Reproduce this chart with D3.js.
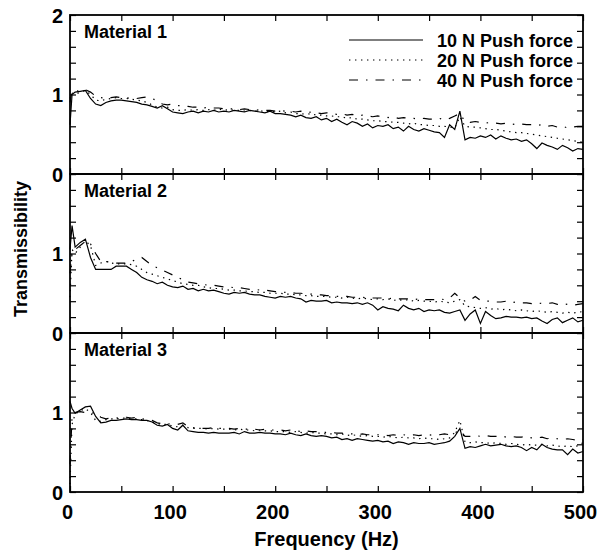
<!DOCTYPE html>
<html><head><meta charset="utf-8">
<script src="https://cdn.jsdelivr.net/npm/d3@7"></script>
<style>body{margin:0;background:#fff}svg text{font-family:"Liberation Sans",Arial,sans-serif;font-weight:bold;fill:#000}</style>
</head><body><svg id="c" width="598" height="550"></svg>
<script>
const freq = [0,2,5,10,15,20,25,30,35,40,45,50,55,60,65,70,75,80,85,90,95,100,105,110,115,120,125,130,135,140,145,150,155,160,165,170,175,180,185,190,195,200,205,210,215,220,225,230,235,240,245,250,255,260,265,270,275,280,285,290,295,300,305,310,315,320,325,330,335,340,345,350,355,360,365,370,375,380,385,390,395,400,405,410,415,420,425,430,435,440,445,450,455,460,465,470,475,480,485,490,495,500];
const seriesNames = ["10 N Push force","20 N Push force","40 N Push force"];
const panelNames = ["Material 1","Material 2","Material 3"];
const xTicks = [0,100,200,300,400,500];
const yTickLabels = ["0","1","2"];

const m1_10 = [0.62,1.0,
 1.03,1.04,1.05,0.95,0.88,0.86,0.9,0.92,0.93,0.93,
 0.92,0.91,0.90,0.88,0.87,0.85,0.83,0.86,0.82,0.78,
 0.77,0.76,0.78,0.79,0.77,0.79,0.78,0.80,0.78,0.79,
 0.78,0.80,0.79,0.78,0.80,0.79,0.78,0.77,0.79,0.76,
 0.76,0.75,0.74,0.72,0.74,0.71,0.70,0.72,0.68,0.70,
 0.66,0.69,0.65,0.62,0.66,0.64,0.60,0.63,0.58,0.61,
 0.60,0.62,0.57,0.59,0.54,0.60,0.56,0.54,0.57,0.55,
 0.53,0.52,0.46,0.62,0.56,0.79,0.43,0.46,0.45,0.48,
 0.46,0.49,0.44,0.48,0.45,0.43,0.44,0.41,0.43,0.38,
 0.32,0.39,0.36,0.34,0.31,0.36,0.33,0.29,0.32,0.31];
const m1_20 = [0.95,1.02,
 1.0,1.03,1.05,1.0,0.93,0.92,0.94,0.95,0.96,0.95,
 0.95,0.94,0.93,0.92,0.90,0.87,0.84,0.83,0.84,0.81,
 0.80,0.80,0.81,0.80,0.81,0.80,0.81,0.80,0.82,0.80,
 0.81,0.80,0.80,0.79,0.80,0.79,0.80,0.78,0.79,0.78,
 0.79,0.77,0.78,0.76,0.76,0.75,0.76,0.74,0.74,0.73,
 0.73,0.72,0.72,0.70,0.71,0.69,0.69,0.68,0.67,0.67,
 0.66,0.66,0.65,0.65,0.64,0.63,0.64,0.62,0.62,0.61,
 0.61,0.60,0.60,0.59,0.58,0.72,0.60,0.59,0.59,0.58,
 0.57,0.56,0.56,0.55,0.54,0.53,0.52,0.52,0.51,0.50,
 0.49,0.48,0.47,0.46,0.45,0.44,0.43,0.42,0.41,0.40];
const m1_40 = [0.9,1.05,
 1.05,1.04,1.06,1.03,0.98,0.96,0.95,0.96,0.97,0.96,
 0.96,0.95,0.95,0.96,0.97,0.95,0.92,0.88,0.87,0.88,
 0.86,0.86,0.85,0.84,0.84,0.83,0.84,0.83,0.83,0.82,
 0.82,0.82,0.81,0.82,0.81,0.80,0.81,0.80,0.80,0.79,
 0.80,0.79,0.79,0.78,0.79,0.77,0.78,0.77,0.76,0.77,
 0.76,0.75,0.76,0.74,0.75,0.73,0.74,0.73,0.72,0.73,
 0.72,0.71,0.72,0.70,0.71,0.70,0.70,0.69,0.70,0.69,
 0.69,0.70,0.68,0.70,0.73,0.76,0.66,0.65,0.66,0.65,
 0.64,0.65,0.64,0.63,0.64,0.63,0.62,0.63,0.62,0.62,
 0.61,0.62,0.60,0.61,0.59,0.60,0.58,0.59,0.60,0.60];

const m2_10 = [1.05,1.35,
 1.08,1.14,1.18,0.95,0.80,0.80,0.80,0.80,0.84,0.84,
 0.84,0.80,0.76,0.70,0.67,0.65,0.62,0.64,0.60,0.58,
 0.57,0.59,0.55,0.56,0.53,0.55,0.53,0.54,0.52,0.50,
 0.49,0.51,0.50,0.51,0.49,0.48,0.48,0.46,0.45,0.44,
 0.46,0.45,0.46,0.44,0.43,0.39,0.41,0.40,0.40,0.41,
 0.38,0.39,0.38,0.38,0.37,0.38,0.36,0.38,0.35,0.29,
 0.33,0.31,0.30,0.28,0.35,0.31,0.29,0.31,0.27,0.29,
 0.28,0.29,0.26,0.25,0.27,0.29,0.16,0.24,0.29,0.12,
 0.27,0.22,0.18,0.19,0.21,0.20,0.20,0.19,0.20,0.18,
 0.19,0.15,0.12,0.17,0.19,0.13,0.16,0.19,0.14,0.16];
const m2_20 = [0.45,1.05,
 1.0,1.08,1.16,1.10,0.85,0.88,0.90,0.88,0.87,0.87,
 0.87,0.86,0.84,0.80,0.76,0.74,0.72,0.70,0.68,0.66,
 0.64,0.62,0.61,0.60,0.60,0.58,0.57,0.56,0.56,0.55,
 0.54,0.54,0.53,0.53,0.52,0.52,0.51,0.51,0.50,0.50,
 0.50,0.49,0.49,0.48,0.48,0.47,0.47,0.46,0.46,0.46,
 0.45,0.45,0.44,0.45,0.44,0.43,0.44,0.43,0.42,0.43,
 0.42,0.43,0.41,0.42,0.41,0.42,0.40,0.41,0.40,0.40,
 0.39,0.40,0.39,0.38,0.40,0.42,0.34,0.33,0.32,0.31,
 0.32,0.30,0.31,0.29,0.30,0.29,0.28,0.29,0.28,0.27,
 0.28,0.27,0.26,0.27,0.26,0.25,0.26,0.25,0.26,0.27];
const m2_40 = [0.75,1.0,
 1.05,1.10,1.15,1.12,1.0,0.9,0.9,0.89,0.88,0.88,
 0.88,0.90,0.93,0.95,0.90,0.85,0.82,0.79,0.76,0.73,
 0.70,0.67,0.64,0.63,0.62,0.61,0.60,0.60,0.59,0.58,
 0.58,0.57,0.57,0.56,0.55,0.55,0.54,0.54,0.53,0.52,
 0.52,0.51,0.51,0.50,0.50,0.49,0.49,0.48,0.48,0.47,
 0.47,0.46,0.46,0.46,0.45,0.45,0.45,0.44,0.44,0.44,
 0.44,0.43,0.44,0.43,0.43,0.43,0.42,0.43,0.42,0.42,
 0.42,0.43,0.42,0.44,0.50,0.44,0.40,0.41,0.46,0.41,
 0.40,0.40,0.39,0.39,0.40,0.38,0.39,0.38,0.38,0.37,
 0.38,0.37,0.37,0.38,0.36,0.37,0.36,0.35,0.36,0.37];

const m3_10 = [1.14,1.05,
 0.99,1.03,1.07,1.08,0.95,0.87,0.88,0.90,0.90,0.91,
 0.92,0.91,0.91,0.90,0.90,0.88,0.84,0.83,0.85,0.80,
 0.78,0.84,0.77,0.76,0.75,0.75,0.74,0.75,0.74,0.74,
 0.74,0.75,0.73,0.76,0.74,0.74,0.75,0.74,0.74,0.73,
 0.73,0.72,0.74,0.72,0.71,0.73,0.71,0.70,0.71,0.70,
 0.68,0.69,0.66,0.67,0.65,0.67,0.66,0.65,0.64,0.65,
 0.63,0.64,0.61,0.63,0.62,0.60,0.62,0.61,0.61,0.62,
 0.60,0.61,0.62,0.64,0.70,0.80,0.55,0.57,0.56,0.58,
 0.60,0.58,0.59,0.60,0.58,0.57,0.58,0.56,0.52,0.56,
 0.53,0.60,0.56,0.54,0.53,0.53,0.47,0.54,0.49,0.51];
const m3_20 = [0.1,0.85,
 0.98,1.02,1.05,1.0,0.9,0.89,0.91,0.92,0.92,0.93,
 0.93,0.92,0.92,0.91,0.90,0.88,0.86,0.85,0.85,0.83,
 0.82,0.84,0.81,0.80,0.80,0.80,0.79,0.80,0.79,0.79,
 0.79,0.78,0.79,0.78,0.78,0.77,0.78,0.77,0.77,0.76,
 0.76,0.76,0.75,0.76,0.75,0.74,0.75,0.74,0.74,0.73,
 0.73,0.72,0.73,0.71,0.72,0.71,0.70,0.71,0.70,0.70,
 0.69,0.70,0.69,0.68,0.69,0.68,0.68,0.67,0.68,0.67,
 0.67,0.66,0.67,0.68,0.75,0.90,0.63,0.62,0.63,0.62,
 0.62,0.61,0.62,0.61,0.60,0.61,0.60,0.59,0.60,0.59,
 0.59,0.60,0.58,0.59,0.58,0.57,0.58,0.57,0.58,0.62];
const m3_40 = [0.35,0.95,
 1.0,1.01,1.0,0.99,1.0,0.94,0.92,0.93,0.93,0.94,
 0.94,0.93,0.94,0.92,0.91,0.90,0.87,0.86,0.86,0.85,
 0.85,0.87,0.82,0.81,0.80,0.80,0.80,0.81,0.80,0.80,
 0.80,0.79,0.80,0.79,0.79,0.79,0.78,0.79,0.78,0.78,
 0.78,0.77,0.78,0.77,0.76,0.77,0.76,0.76,0.75,0.75,
 0.75,0.74,0.74,0.73,0.73,0.72,0.73,0.72,0.72,0.72,
 0.72,0.71,0.72,0.71,0.72,0.71,0.72,0.71,0.72,0.72,
 0.71,0.72,0.73,0.72,0.74,0.78,0.70,0.70,0.71,0.70,
 0.71,0.70,0.70,0.71,0.69,0.70,0.69,0.69,0.70,0.68,
 0.68,0.69,0.67,0.68,0.67,0.66,0.67,0.66,0.65,0.66];

const panels = [[m1_10,m1_20,m1_40],[m2_10,m2_20,m2_40],[m3_10,m3_20,m3_40]];
const dashes = [null, "1.4,4.6", "9,8,1.5,8"];

const svg = d3.select("#c");
const L = 70, R = 583, T = 15, PH = 159;
const x = d3.scaleLinear().domain([0,500]).range([L,R]);
const yTickVals = d3.range(0, 2.0001, 0.2);
const xTickVals = d3.range(0, 501, 50);

panels.forEach((series, p) => {
  const top = T + p*PH, bot = top + PH;
  const y = d3.scaleLinear().domain([0,2]).range([bot, top]);
  const g = svg.append("g");
  const ax = g.append("g").attr("transform",`translate(${L},0)`)
    .call(d3.axisLeft(y).tickValues(yTickVals).tickSizeInner(-6).tickSizeOuter(0).tickPadding(7)
      .tickFormat(d => {
        const r = Math.round(d*10)/10;
        if (r % 1 !== 0) return "";
        if (p > 0 && r === 2) return "";
        return yTickLabels[r];
      }));
  ax.select(".domain").remove();
  ax.selectAll("text").style("font-size","20px").attr("dy","0.36em");
  const axR = g.append("g").attr("transform",`translate(${R},0)`)
    .call(d3.axisRight(y).tickValues(yTickVals).tickSizeInner(-6).tickSizeOuter(0).tickFormat(""));
  axR.select(".domain").remove();
  const axB = g.append("g").attr("transform",`translate(0,${bot})`)
    .call(d3.axisBottom(x).tickValues(xTickVals).tickSizeInner(-6).tickSizeOuter(0).tickPadding(13)
      .tickFormat(d => (p === 2 && xTicks.includes(d)) ? String(d) : ""));
  axB.select(".domain").remove();
  axB.selectAll("text").style("font-size","20px").attr("dx","-3");
  const axT = g.append("g").attr("transform",`translate(0,${top})`)
    .call(d3.axisTop(x).tickValues(xTickVals).tickSizeInner(-6).tickSizeOuter(0).tickFormat(""));
  axT.select(".domain").remove();
  g.selectAll(".tick line").attr("stroke","#000").attr("stroke-width",1.2);

  series.forEach((vals, s) => {
    const line = d3.line().x((d,i) => x(freq[i])).y(d => y(d));
    g.append("path").datum(vals).attr("d", line)
      .attr("fill","none").attr("stroke","#000").attr("stroke-width",1.2)
      .attr("stroke-dasharray", dashes[s]);
  });

  g.append("rect").attr("x",L).attr("y",top).attr("width",R-L).attr("height",PH)
    .attr("fill","none").attr("stroke","#000").attr("stroke-width",1.8);

  g.append("text").attr("x",84).attr("y",top+23).style("font-size","18px").text(panelNames[p]);
});

const leg = svg.append("g");
seriesNames.forEach((name, i) => {
  const yy = 40 + i*20;
  leg.append("line").attr("x1",349).attr("x2",423).attr("y1",yy).attr("y2",yy)
    .attr("stroke","#000").attr("stroke-width",1.2).attr("stroke-dasharray",dashes[i]);
  leg.append("text").attr("x",573).attr("y",yy+6.5).attr("text-anchor","end")
    .style("font-size","18px").text(name);
});

svg.append("text").attr("x",(L+R)/2).attr("y",546).attr("text-anchor","middle")
  .style("font-size","20px").text("Frequency (Hz)");
svg.append("text").attr("transform","translate(27,249) rotate(-90)").attr("text-anchor","middle")
  .style("font-size","18px").text("Transmissibility");
</script></body></html>
